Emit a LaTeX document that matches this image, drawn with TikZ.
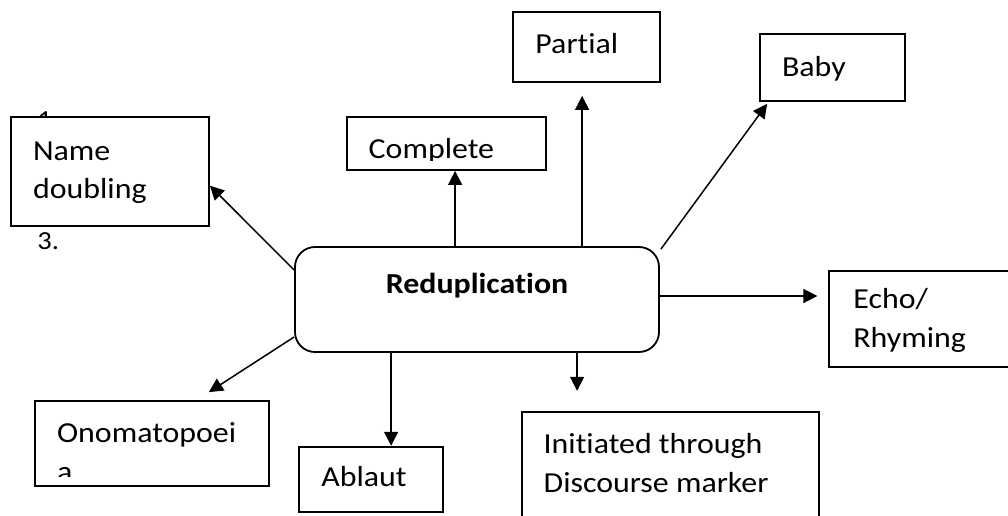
\documentclass[tikz,border=0pt]{standalone}
\usepackage{fontspec}
\setmainfont{Carlito}[Ligatures=NoCommon,FakeStretch=1.1]
\usetikzlibrary{arrows.meta,calc,fit}
\newcommand\boxfont{\fontsize{14.5}{19.25}\selectfont}
\newcommand\numfont{\fontsize{13}{16}\selectfont}

\begin{document}
\begin{tikzpicture}[x=0.5pt,y=-0.5pt,
  box/.style={draw,fill=white,line width=0.9pt,inner sep=0pt},
  mainbox/.style={box,rounded corners=10pt},
  lbl/.style={anchor=base west,inner sep=0pt,align=left,font=\boxfont},
  num/.style={anchor=base west,inner sep=0pt,font=\numfont},
  arr/.style={-{Triangle[length=7pt,width=7pt]},line width=0.75pt}]
\path[use as bounding box,clip] (0,0) rectangle (1008,515);
% list numbers, partly hidden by the left box
\node[num] (n1) at (37,128) {1.};
\node[num] (n3) at (37,249.5) {3.};
% boxes
\node[mainbox,fit={(295,247) (659,352)}] (red) {};
\node[box,fit={(11,117.3) (209,226)}] (nd) {};
\node[box,fit={(347,117) (546,170)}] (cpl) {};
\node[box,fit={(513,12) (660,82)}] (prt) {};
\node[box,fit={(760,34) (905,101)}] (baby) {};
\node[box,fit={(829.3,270.7) (1030,367)}] (echo) {};
\node[box,fit={(35,401) (269,486)}] (ono) {};
\node[box,fit={(299.3,446.7) (443,512)}] (abl) {};
\node[box,fit={(521.7,411.7) (819.3,540)}] (init) {};
% texts (base of a two-line text is its last line)
\node[anchor=base,inner sep=0pt,font=\boxfont\bfseries] (redt) at (477,293.3) {Reduplication};
\node[lbl] (ndt) at (32.7,198.7) {Name\\doubling};
\node[lbl] (prtt) at (535,53.3) {Partial};
\node[lbl] (babyt) at (781.7,76) {Baby};
\node[lbl] (echot) at (853,347.3) {Echo/\\Rhyming};
\node[lbl] (ablt) at (321,486.7) {Ablaut};
\node[lbl] (initt) at (543.3,492) {Initiated through\\Discourse marker};
\begin{scope}
\clip (cpl.north west) rectangle ($(cpl.south east)+(0,-10.5)$);
\node[lbl] (cplt) at (368.3,158.3) {Complete};
\end{scope}
\begin{scope}
\clip (ono.north west) rectangle ($(ono.south east)+(0,-10)$);
\node[lbl] (onot) at (56.7,481.2) {Onomatopoei\\a};
\end{scope}
% arrows
\draw[arr] ($(red.north west)+(161,0)$) coordinate (c1) -- (c1 |- cpl.south);
\draw[arr] ($(red.north west)+(288,0)$) coordinate (c2) -- ($(c2 |- prt.south)+(0,13)$);
\draw[arr] ($(red.north east)+(1,3)$) -- ($(baby.south west)+(8,2)$);
\draw[arr] ($(red.east)+(0,-3.5)$) coordinate (c3) -- ($(c3 -| echo.west)+(-11,0)$);
\draw[arr] ($(red.west)+(0,-29.5)$) -- ($(nd.east)+(0,14)$);
\draw[arr] ($(red.west)+(0,37.5)$) -- ($(ono.north east)+(-61,-8)$);
\draw[arr] ($(red.south west)+(97,0)$) coordinate (c4) -- (c4 |- abl.north);
\draw[arr] ($(red.south west)+(283,0)$) coordinate (c5) -- ($(c5 |- init.north)+(0,-20)$);
\end{tikzpicture}
\end{document}
